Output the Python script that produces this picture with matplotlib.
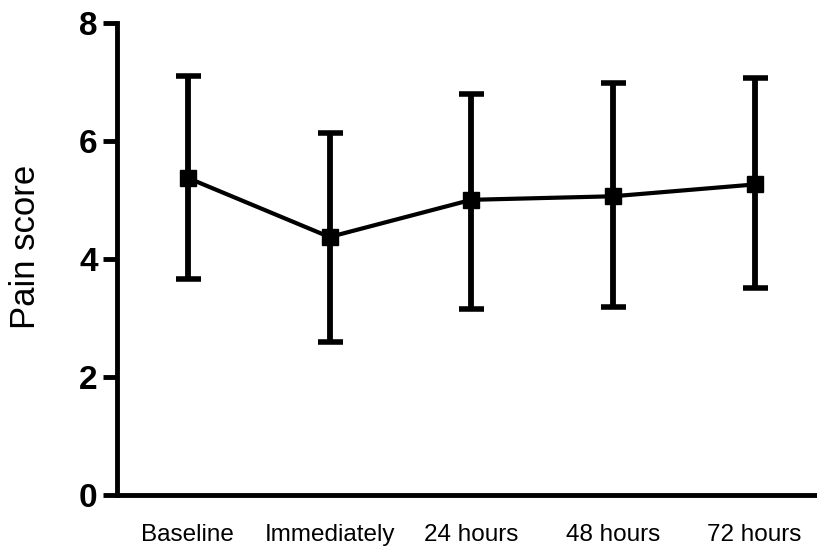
import matplotlib
matplotlib.use("Agg")
import matplotlib.pyplot as plt
import numpy as np

plt.rcParams['font.family'] = ['Liberation Sans', 'DejaVu Sans']

# data
categories = ['Baseline', 'Immediately', '24 hours', '48 hours', '72 hours']
means = [5.37, 4.37, 5.00, 5.06, 5.26]
lower = [3.66, 2.59, 3.15, 3.18, 3.50]
upper = [7.10, 6.14, 6.79, 6.98, 7.07]

means = np.array(means)
err = [means - np.array(lower), np.array(upper) - means]
pos = np.arange(len(categories))

fig = plt.figure(figsize=(8.17, 5.51), dpi=100)
ax = fig.add_axes([0.1432, 0.1016, 0.8568, 0.8572])

ax.errorbar(pos, means, yerr=err, color='black', lw=3, marker='s', ms=11,
            elinewidth=4.2, capsize=9, capthick=4, clip_on=False, zorder=3)

ax.set_xlim(-0.5, 4.44)
ax.set_ylim(0, 8)
ax.set_yticks([0, 2, 4, 6, 8])
ax.set_xticks(pos)
ax.set_xticklabels(categories, fontsize=17.5)
for lbl in ax.get_yticklabels():
    lbl.set_fontsize(24)
    lbl.set_fontweight('bold')

ax.tick_params(axis='y', length=10, width=3.5, pad=4)
ax.tick_params(axis='x', length=0, pad=21)

for s in ['top', 'right']:
    ax.spines[s].set_visible(False)
for s in ['left', 'bottom']:
    ax.spines[s].set_linewidth(3.5)

ax.set_ylabel('Pain score', fontsize=25)
ax.yaxis.set_label_coords(-0.107, 0.526)

fig.savefig('out.png', dpi=100)
